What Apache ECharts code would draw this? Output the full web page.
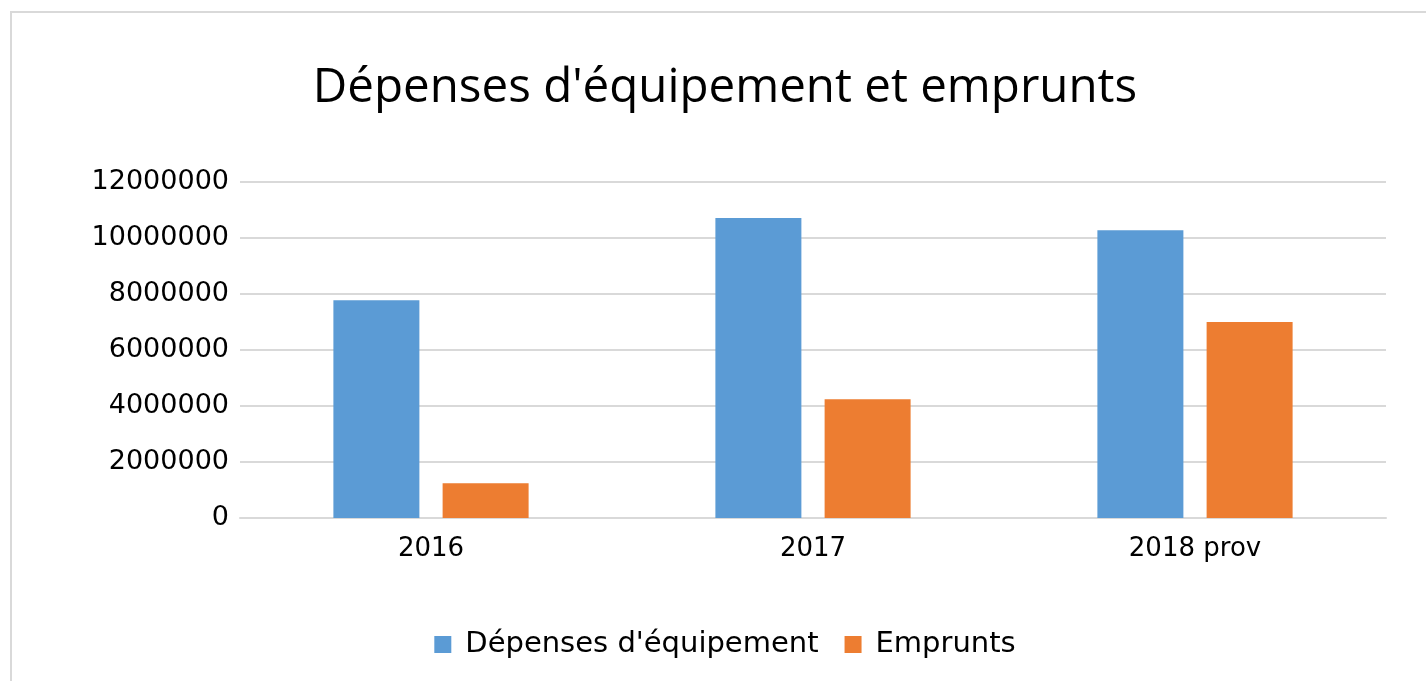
<!DOCTYPE html>
<html lang="fr">
<head>
    <meta charset="UTF-8">
    <title>Dépenses d'équipement et emprunts</title>
    <style>
        html, body { margin: 0; padding: 0; background: #fff; overflow: hidden; }
        #frame { position: absolute; left: 10px; top: 11px; width: 1420px; height: 680px; border: 2px solid #d9d9d9; box-sizing: border-box; }
    </style>
</head>
<body>
    <div id="frame"></div>
    <div id="app" style="width: 1426px;height:681px;position:absolute;left:12px;top:0;"></div>
    <script src="https://cdn.jsdelivr.net/npm/echarts@6/dist/echarts.min.js"></script>
    <script>
        const categories = ["2016", "2017", "2018 prov"];
        const depenses = [7780000, 10710000, 10280000];
        const emprunts = [1240000, 4240000, 7000000];
        const yTicks = [0, 2000000, 4000000, 6000000, 8000000, 10000000, 12000000];

        const font = "'Open Sans', sans-serif";
        const wide = "'DejaVu Sans', sans-serif";
        const myChart = echarts.init(document.getElementById('app'));
        const options = {
            animation: false,
            title: {
                text: "Dépenses d'équipement et emprunts",
                left: "center",
                top: 59,
                textStyle: { fontFamily: font, fontSize: 47.5, fontWeight: "normal", color: "#000" }
            },
            legend: {
                bottom: 17,
                left: "center",
                icon: "rect",
                itemWidth: 17,
                itemHeight: 17,
                itemGap: 26,
                textStyle: { fontFamily: wide, fontSize: 29, color: "#000", padding: [0, 0, 0, 9] },
                data: ["Dépenses d'équipement", "Emprunts"]
            },
            grid: { left: 228, right: 52, top: 182, bottom: 163 },
            xAxis: {
                type: "category",
                data: categories,
                axisTick: { show: false },
                axisLine: { lineStyle: { color: "#d9d9d9", width: 2 } },
                axisLabel: { fontFamily: wide, fontSize: 26, color: "#000", margin: 18 }
            },
            yAxis: {
                type: "value",
                min: yTicks[0],
                max: yTicks[yTicks.length - 1],
                interval: 2000000,
                axisLine: { show: false },
                axisTick: { show: false },
                splitLine: { lineStyle: { color: "#d9d9d9", width: 2 } },
                axisLabel: {
                    fontFamily: wide, fontSize: 27, color: "#000", margin: 11,
                    formatter: function (v) { return String(v); }
                }
            },
            series: [
                {
                    name: "Dépenses d'équipement",
                    type: "bar",
                    data: depenses,
                    barWidth: 86,
                    barGap: "27%",
                    itemStyle: { color: "#5b9bd5" }
                },
                {
                    name: "Emprunts",
                    type: "bar",
                    data: emprunts,
                    barWidth: 86,
                    itemStyle: { color: "#ed7d31" }
                }
            ]
        };
        myChart.setOption(options);
    </script>
</body>
</html>
